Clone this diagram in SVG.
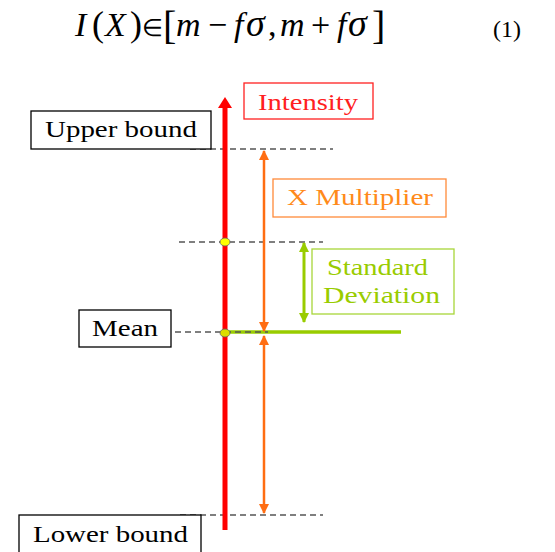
<svg xmlns="http://www.w3.org/2000/svg" width="555" height="552" viewBox="0 0 555 552">
<style>
.box{fill:#fff;stroke-width:1.3}
.dash{stroke:#555;stroke-width:1.4;stroke-dasharray:6 4;fill:none}
.serif{font-family:'Liberation Serif','Times New Roman',Times,serif}
</style>
<defs>
<marker id="oh" viewBox="0 0 10 10" refX="9" refY="5" markerWidth="4" markerHeight="4" orient="auto-start-reverse" markerUnits="strokeWidth"><path d="M0,0 L10,5 L0,10 z" fill="#ff6d12"/></marker>
<marker id="gh" viewBox="0 0 10 10" refX="9" refY="5" markerWidth="3.4" markerHeight="3.4" orient="auto-start-reverse" markerUnits="strokeWidth"><path d="M0,0 L10,5 L0,10 z" fill="#99cc00"/></marker>
</defs>
<rect width="555" height="552" fill="#fff"/>
<g id="equation" class="serif" fill="#000">
<text y="36" font-size="34" font-style="italic"><tspan x="75">I</tspan><tspan font-style="normal" x="92" font-size="36">(</tspan><tspan x="105">X</tspan><tspan font-style="normal" x="130" font-size="36">)</tspan><tspan font-style="normal" x="142" font-size="24">∈</tspan><tspan font-style="normal" x="163" y="39" font-size="40">[</tspan><tspan x="176" y="36">m</tspan><tspan font-style="normal" x="208">−</tspan><tspan x="234">f</tspan><tspan x="246" font-size="38">σ</tspan><tspan font-style="normal" x="268">,</tspan><tspan x="280">m</tspan><tspan font-style="normal" x="311">+</tspan><tspan x="337">f</tspan><tspan x="348" font-size="38">σ</tspan><tspan font-style="normal" x="372" y="39" font-size="40">]</tspan></text>
<text x="493" y="37" font-size="24">(1)</text>
</g>
<g id="green-base">
<line x1="225" y1="332" x2="401" y2="332" stroke="#99cc00" stroke-width="3.5"/>
</g>
<g id="connectors">
<line class="dash" x1="190" y1="149" x2="333" y2="149"/>
<line class="dash" x1="179" y1="242" x2="323" y2="242"/>
<line class="dash" x1="175" y1="332" x2="268" y2="332"/>
<line class="dash" x1="180" y1="515" x2="323" y2="515"/>
<line x1="225" y1="530" x2="225" y2="106" stroke="#ff0000" stroke-width="5"/>
<polygon points="225,97 218,108 232,108" fill="#ff0000"/>
<line x1="264" y1="151" x2="264" y2="331" stroke="#ff6d12" stroke-width="2.5" marker-start="url(#oh)" marker-end="url(#oh)"/>
<line x1="264" y1="336" x2="264" y2="513" stroke="#ff6d12" stroke-width="2.5" marker-start="url(#oh)" marker-end="url(#oh)"/>
<line x1="304" y1="243" x2="304" y2="322" stroke="#99cc00" stroke-width="3" marker-start="url(#gh)" marker-end="url(#gh)"/>
<ellipse cx="225" cy="242" rx="5" ry="4" fill="#ffff00" stroke="#666" stroke-width="0.8"/>
<ellipse cx="225" cy="333" rx="5" ry="4" fill="#dddd00" stroke="#666" stroke-width="0.8"/>
</g>
<g class="serif" font-size="24">
<g id="intensity">
<rect class="box" x="244" y="83" width="129" height="36" stroke="#ff2020"/>
<text x="258" y="110" fill="#ff2020" textLength="100" lengthAdjust="spacingAndGlyphs">Intensity</text>
</g>
<g id="upper-bound">
<rect class="box" x="31" y="111" width="180" height="38" stroke="#000"/>
<text x="45" y="137" fill="#000" textLength="152" lengthAdjust="spacingAndGlyphs">Upper bound</text>
</g>
<g id="x-multiplier">
<rect class="box" x="273" y="179" width="173" height="38" stroke="#ff8a3a"/>
<text x="287" y="205" fill="#ff8a1a" textLength="146" lengthAdjust="spacingAndGlyphs">X Multiplier</text>
</g>
<g id="standard-deviation">
<rect class="box" x="312" y="249" width="142" height="65" stroke="#a8d63a"/>
<text x="327" y="275" fill="#99cc00" textLength="101" lengthAdjust="spacingAndGlyphs">Standard</text>
<text x="323" y="303" fill="#99cc00" textLength="117" lengthAdjust="spacingAndGlyphs">Deviation</text>
</g>
<g id="mean">
<rect class="box" x="79" y="310" width="92" height="37" stroke="#000"/>
<text x="92" y="336" fill="#000" textLength="66" lengthAdjust="spacingAndGlyphs">Mean</text>
</g>
<g id="lower-bound">
<rect class="box" x="19" y="515" width="182" height="45" stroke="#000"/>
<text x="33" y="542" fill="#000" textLength="155" lengthAdjust="spacingAndGlyphs">Lower bound</text>
</g>
</g>
</svg>
